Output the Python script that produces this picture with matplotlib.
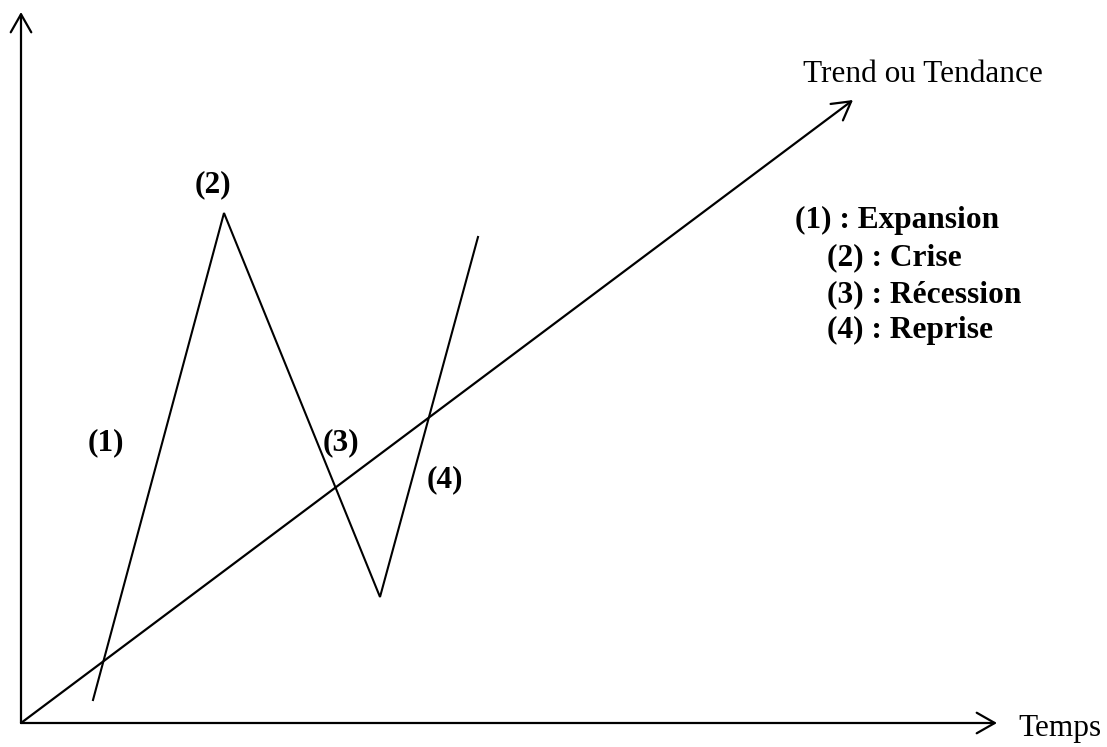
import matplotlib
matplotlib.use("Agg")
import matplotlib.pyplot as plt

# schematic drawn in pixel space of the original picture (y grows downward)
origin = (21, 723)
y_axis_tip = (21, 12)
x_axis_tip = (997, 723)
trend_end = (853, 100)

cycle_x = [93, 224, 380, 478]
cycle_y = [700, 213, 597, 237]

phase_labels = ["(1)", "(2)", "(3)", "(4)"]
phase_x = [88, 195, 323, 427]
phase_y = [450, 192, 450, 487]

legend_lines = ["(1) : Expansion", "(2) : Crise", "(3) : Récession", "(4) : Reprise"]
legend_x = [795, 827, 827, 827]
legend_y = [228, 265, 302, 338]

serif = ["Liberation Serif", "DejaVu Serif"]

fig = plt.figure(figsize=(11.07, 7.47), dpi=100)
ax = fig.add_axes([0, 0, 1, 1])
ax.set_xlim(0, 1107)
ax.set_ylim(747, 0)
ax.axis("off")

arrow = dict(arrowstyle="->,head_length=0.65,head_width=0.37", lw=1.6,
             color="black", mutation_scale=20, shrinkA=0, shrinkB=0)
ax.annotate("", xy=y_axis_tip, xytext=origin, arrowprops=arrow)
ax.annotate("", xy=x_axis_tip, xytext=origin, arrowprops=arrow)
ax.annotate("", xy=trend_end, xytext=origin, arrowprops=arrow)

ax.plot(cycle_x, cycle_y, color="black", lw=1.5, solid_joinstyle="miter")

for lab, x, y in zip(phase_labels, phase_x, phase_y):
    ax.text(x, y, lab, family=serif, fontsize=22.6, fontweight="bold",
            ha="left", va="baseline")

for lab, x, y in zip(legend_lines, legend_x, legend_y):
    ax.text(x, y, lab, family=serif, fontsize=22.6, fontweight="bold",
            ha="left", va="baseline")

ax.text(803, 82, "Trend ou Tendance", family=serif, fontsize=22.5,
        ha="left", va="baseline")
ax.text(1018, 736, "Temps", family=serif, fontsize=22.5,
        ha="left", va="baseline")

fig.savefig("out.png", dpi=100)
